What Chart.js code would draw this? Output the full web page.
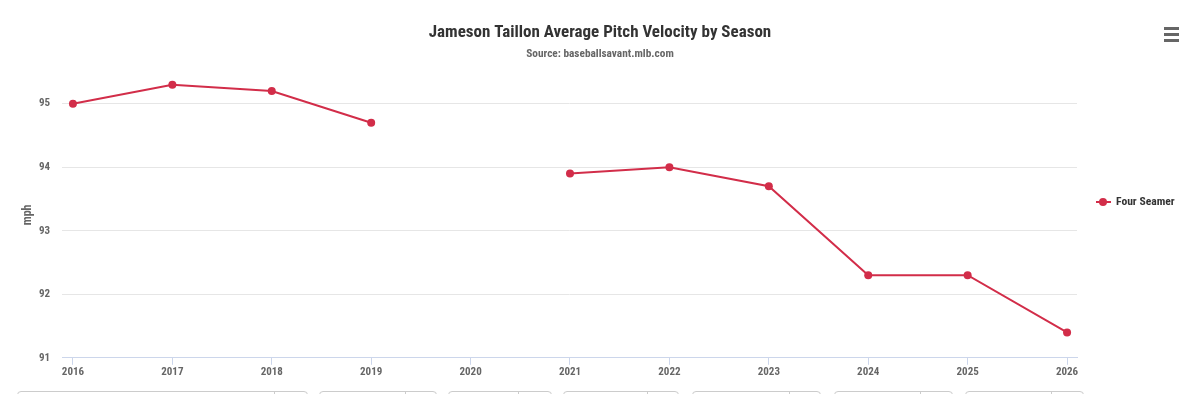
<!DOCTYPE html>
<html>
<head>
<meta charset="utf-8">
<script src="https://cdn.jsdelivr.net/npm/chart.js@4/dist/chart.umd.min.js"></script>
<style>
    body { margin: 0; background: #fff; overflow: hidden; }
    #contenedor { position: relative; width: 1200px; height: 385px; }
    #menu { position: absolute; left: 1164px; top: 27px; width: 15px; }
    #menu span { display: block; height: 3px; background: #666; margin-bottom: 3px; }
    .caja { position: absolute; top: 391px; height: 24px; border: 1px solid #ccc; border-radius: 4px; box-sizing: border-box; }
    .caja i { position: absolute; top: 0; bottom: 0; border-left: 1px solid #ccc; }
</style>
</head>
<body>
<div id="contenedor">
    <canvas id="miGrafico"></canvas>
    <div id="menu"><span></span><span></span><span></span></div>
</div>
<div id="cajas"></div>

<script>
const anios = [2016, 2017, 2018, 2019, 2020, 2021, 2022, 2023, 2024, 2025, 2026];
const cuatroCosturas = [95.0, 95.3, 95.2, 94.7, null, 93.9, 94.0, 93.7, 92.3, 92.3, 91.4];
const ticksMph = [91, 92, 93, 94, 95];

const nombreSerie = "Four Seamer";
const colorSerie = "#d22d49";
const fuente = "'Roboto Condensed', 'Liberation Sans Narrow', 'DejaVu Sans Condensed', Roboto, sans-serif";

// controles de abajo (solo decorado)
const cajas = [[17, 273, 308], [319, 404, 437], [448, 517, 552], [563, 646, 679], [692, 788, 821], [834, 919, 953], [965, 1050, 1084]];
const cajasElement = document.getElementById("cajas");
cajas.forEach(c => {
    const div = document.createElement("div");
    div.className = "caja";
    div.style.left = c[0] + "px";
    div.style.width = (c[2] - c[0]) + "px";
    div.innerHTML = `<i style="left:${c[1] - c[0]}px"></i>`;
    cajasElement.appendChild(div);
});

// caja de layout a la derecha para la leyenda (asi el titulo queda centrado en todo el ancho)
const leyendaLinea = {
    id: 'leyendaLinea',
    beforeInit(chart) {
        const caja = {
            position: 'right',
            weight: 0,
            fullSize: false,
            options: {},
            isHorizontal: () => false,
            update(maxWidth, maxHeight) {
                this.width = 123;
                this.height = maxHeight;
                return { width: this.width, height: this.height };
            },
            draw() {}
        };
        Chart.layouts.addBox(chart, caja);
    },
    afterDraw(chart) {
        const ctx = chart.ctx;
        const area = chart.chartArea;
        const x = area.right + 19;
        const y = area.top + (area.bottom - area.top) * 0.455;
        ctx.save();
        ctx.strokeStyle = colorSerie;
        ctx.lineWidth = 2;
        ctx.beginPath();
        ctx.moveTo(x, y);
        ctx.lineTo(x + 15, y);
        ctx.stroke();
        ctx.fillStyle = colorSerie;
        ctx.beginPath();
        ctx.arc(x + 7, y, 4, 0, Math.PI * 2);
        ctx.fill();
        ctx.fillStyle = "#333";
        ctx.font = "bold 11.6px " + fuente;
        ctx.textBaseline = "middle";
        ctx.fillText(nombreSerie, x + 20, y);
        ctx.restore();
    }
};

const dataObject = {
    datasets: [{
        label: nombreSerie,
        data: anios.map((a, i) => ({ x: a, y: cuatroCosturas[i] })),
        borderColor: colorSerie,
        backgroundColor: colorSerie,
        borderWidth: 2,
        pointRadius: 4,
        pointBorderWidth: 0,
        pointHoverRadius: 5,
        spanGaps: false,
        tension: 0
    }]
};

const options = {
    responsive: true,
    maintainAspectRatio: false,
    animation: false,
    layout: { padding: { left: 0, right: 0, top: 0, bottom: 5 } },
    plugins: {
        legend: { display: false },
        tooltip: { enabled: false },
        title: {
            display: true,
            text: "Jameson Taillon Average Pitch Velocity by Season",
            color: "#333",
            font: { family: fuente, size: 17, weight: 'bold' },
            padding: { top: 23, bottom: 4 }
        },
        subtitle: {
            display: true,
            text: "Source: baseballsavant.mlb.com",
            color: "#666",
            font: { family: fuente, size: 11.3, weight: 'bold' },
            padding: { top: 0, bottom: 11 }
        }
    },
    scales: {
        x: {
            type: 'linear',
            min: 2015.89,
            max: 2026.1,
            afterBuildTicks: scale => { scale.ticks = anios.map(v => ({ value: v })); },
            ticks: {
                color: "#666",
                font: { family: fuente, size: 11, weight: 'bold' },
                padding: 1,
                maxRotation: 0,
                autoSkip: false,
                callback: v => String(v)
            },
            grid: { drawOnChartArea: false, drawTicks: true, tickLength: 7, color: "#ccd6eb" },
            border: { color: "#ccd6eb", width: 1 }
        },
        y: {
            min: 91,
            max: 95.5,
            afterBuildTicks: scale => { scale.ticks = ticksMph.map(v => ({ value: v })); },
            afterFit: scale => { scale.width = 62; },
            ticks: {
                color: "#666",
                font: { family: fuente, size: 11, weight: 'bold' },
                padding: 12
            },
            grid: { color: "#e6e6e6", drawTicks: false },
            border: { display: false },
            title: {
                display: true,
                text: "mph",
                color: "#666",
                font: { family: fuente, size: 12, weight: 'bold' },
                padding: { top: 21, bottom: 0 }
            }
        }
    }
};

const ctx = document.getElementById('miGrafico').getContext('2d');
const myChart = new Chart(ctx, {
    type: 'line',
    data: dataObject,
    options: options,
    plugins: [leyendaLinea]
});
</script>
</body>
</html>
